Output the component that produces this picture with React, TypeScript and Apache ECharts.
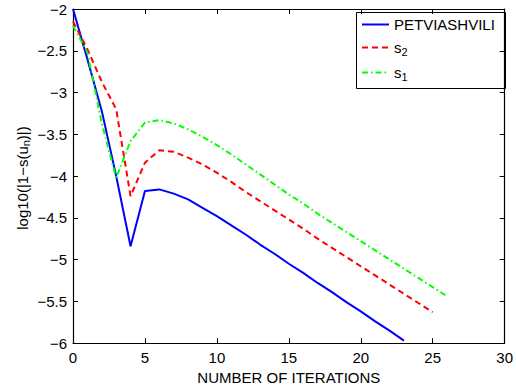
import React, { useEffect, useRef } from "react";
import * as echarts from "echarts";

const seriesNames = ["PETVIASHVILI", "s2", "s1"];
const petviashvili = [-2.0, -2.6, -3.22, -4.0, -4.84, -4.18, -4.16, -4.21, -4.28, -4.38, -4.48, -4.59, -4.7, -4.82, -4.93, -5.05, -5.16, -5.28, -5.39, -5.51, -5.62, -5.74, -5.85, -5.97];
const s2 = [-2.15, -2.48, -2.87, -3.2, -4.24, -3.84, -3.69, -3.71, -3.78, -3.86, -3.96, -4.07, -4.19, -4.3, -4.41, -4.52, -4.63, -4.75, -4.86, -4.97, -5.08, -5.19, -5.3, -5.41, -5.52, -5.63];
const s1 = [-2.2, -2.52, -3.37, -4.02, -3.58, -3.36, -3.33, -3.37, -3.44, -3.53, -3.63, -3.74, -3.86, -3.98, -4.1, -4.22, -4.33, -4.45, -4.56, -4.67, -4.78, -4.89, -5.0, -5.11, -5.22, -5.33, -5.44];
const xTicks = { min: 0, max: 30, interval: 5 };
const yTicks = { min: -6, max: -2, interval: 0.5 };
const yTitle = "{m|log10(|1\u2212s(u}{sub|n}{m|)|)}";

const FONT = "'Liberation Sans', Arial, Helvetica, sans-serif";
const toPairs = (arr: number[]) => arr.map((v, i) => [i, v]);
const fmtMinus = (v: number) => String(v).replace("-", "\u2212");

export default function App() {
  const ref = useRef<HTMLDivElement>(null);
  useEffect(() => {
    if (!ref.current) return;
    const chart = echarts.init(ref.current, undefined, { renderer: "svg" });
    const axisLine = { onZero: false, lineStyle: { color: "#000", width: 1.2 } };
    const axisTick = { inside: true, length: 5, lineStyle: { color: "#000", width: 1 } };
    const labelStyle = { color: "#000", fontSize: 15, fontFamily: FONT };
    const rich = {
      m: { fontSize: 15, fontFamily: FONT, color: "#000" },
      sub: { fontSize: 11, fontFamily: FONT, color: "#000", padding: [8, 0, 0, 0] },
    };
    chart.setOption({
      animation: false,
      backgroundColor: "#fff",
      grid: { left: 73, right: 11, top: 9, bottom: 42, containLabel: false },
      xAxis: [
        {
          type: "value", ...xTicks,
          axisLine, axisTick,
          axisLabel: { ...labelStyle, margin: 7 },
          splitLine: { show: false },
          name: "NUMBER OF ITERATIONS", nameLocation: "middle", nameGap: 22,
          nameTextStyle: { ...labelStyle },
        },
        {
          type: "value", position: "top", ...xTicks,
          axisLine, axisTick, axisLabel: { show: false }, splitLine: { show: false },
        },
      ],
      yAxis: [
        {
          type: "value", ...yTicks,
          axisLine, axisTick,
          axisLabel: { ...labelStyle, margin: 6, formatter: fmtMinus },
          splitLine: { show: false },
        },
        {
          type: "value", position: "right", ...yTicks,
          axisLine, axisTick, axisLabel: { show: false }, splitLine: { show: false },
        },
      ],
      graphic: [
        {
          type: "rect", left: 356, top: 12, z: 0,
          shape: { width: 149, height: 76 },
          style: { fill: "#fff", stroke: "#000", lineWidth: 1 },
        },
        {
          type: "text", x: 22, y: 178, rotation: Math.PI / 2,
          style: { text: yTitle, align: "center", verticalAlign: "middle", rich, ...labelStyle },
        },
      ],
      legend: {
        data: seriesNames,
        orient: "vertical",
        left: 361, top: 17,
        itemWidth: 27, itemHeight: 14, itemGap: 8,
        padding: 0,
        itemStyle: { color: "rgba(0,0,0,0)", borderWidth: 0, opacity: 0 },
        formatter: (name: string) => (name === "PETVIASHVILI" ? name : `{m|s}{sub|${name.slice(1)}}`),
        textStyle: { ...labelStyle, rich },
      },
      series: [
        {
          name: seriesNames[0], type: "line", data: toPairs(petviashvili), symbol: "none",
          lineStyle: { color: "#0000ff", width: 2, type: "solid" }, itemStyle: { color: "#0000ff" },
        },
        {
          name: seriesNames[1], type: "line", data: toPairs(s2), symbol: "none",
          lineStyle: { color: "#ff0000", width: 2, type: [6, 4] }, itemStyle: { color: "#ff0000" },
        },
        {
          name: seriesNames[2], type: "line", data: toPairs(s1), symbol: "none",
          lineStyle: { color: "#00ff00", width: 2, type: [6, 3, 1.5, 3] }, itemStyle: { color: "#00ff00" },
        },
      ],
    });
    return () => chart.dispose();
  }, []);
  return (
    <div
      ref={ref}
      style={{ position: "fixed", left: 0, top: 0, width: 516, height: 390 }}
    />
  );
}
